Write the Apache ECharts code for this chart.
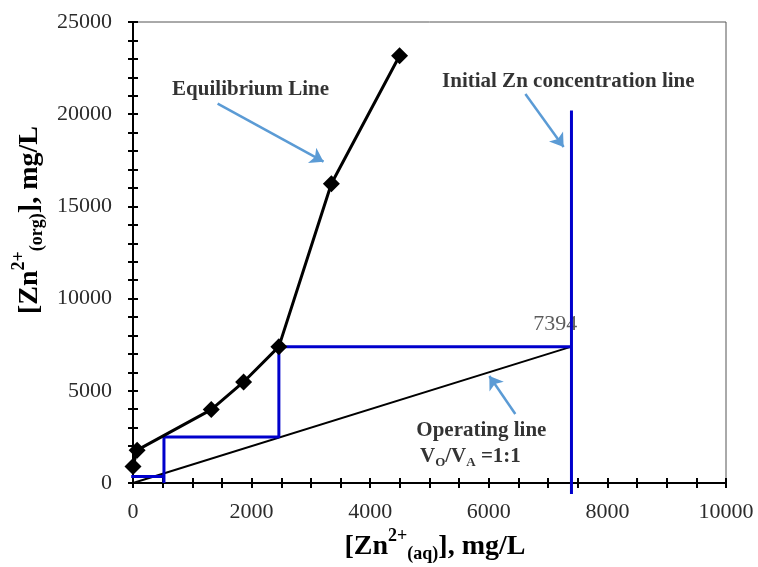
<!DOCTYPE html>
<html><head><meta charset="utf-8">
<script src="https://cdn.jsdelivr.net/npm/echarts@6/dist/echarts.min.js"></script>
<style>html,body{margin:0;padding:0;background:#fff}#c{width:758px;height:567px}</style>
</head><body><div id="c"></div>
<script>
// ---- data ----
const eqX = [0, 70, 1320, 1865, 2460, 3345, 4495];
const eqY = [900, 1780, 3980, 5480, 7394, 16230, 23170];
const opX = [0, 7394];
const opY = [0, 7394];
const stepLowX = [-30, 522];
const stepLowY = [358, 358];
const stepMidX = [522, 522, 2460, 2460];
const stepMidY = [0, 2495, 2495, 7770];
const stepTopX = [2460, 7394];
const stepTopY = [7394, 7394];
const initX = [7394, 7394];
const initY = [-600, 20200];
const xRange = [0, 10000], xStep = 2000;
const yRange = [0, 25000], yStep = 5000;
const xTitle = '{a|[Zn}{sup|2+}{sub|(aq)}{a|], mg/L}';
const yTitle = '{a|[Zn}{sup|2+}{sub|(org)}{a|], mg/L}';
// annotation texts and their anchor (data coords)
const annoText = ['Equilibrium Line', 'Initial Zn concentration line', '7394', 'Operating line', '{b|V}{s|O}{b|/V}{s|A}{b| =1:1}'];
const annoX = [1983, 7341, 7122, 5875, 5690];
const annoY = [21329, 21763, 8585, 2836, 1426];
const arrowFrom = [[1427, 20570], [6617, 21095], [6447, 3742]];
const arrowTo = [[3213, 17424], [7262, 18221], [6009, 5803]];

const zip = (a, b) => a.map((v, i) => [v, b[i]]);
const SERIF = "'Liberation Serif','Times New Roman',serif";
const blue = '#0000CC';

function axisBase(isX) {
  return {
    type: 'value',
    min: isX ? xRange[0] : yRange[0],
    max: isX ? xRange[1] : yRange[1],
    interval: isX ? xStep : yStep,
    splitLine: { show: false },
    axisLine: { show: true, onZero: false, lineStyle: { color: '#000', width: 2 } },
    axisTick: { show: true, length: 5, lineStyle: { color: '#000', width: 2 } },
    minorTick: { show: true, splitNumber: isX ? 4 : 5, length: 5, lineStyle: { color: '#000', width: 2 } },
    axisLabel: { fontFamily: SERIF, fontSize: 22, color: '#2b2b2b', margin: isX ? 18 : 21,
      formatter: v => String(v) }
  };
}
const titleRich = {
  a: { fontFamily: SERIF, fontSize: 28, fontWeight: 'bold', color: '#000', lineHeight: 40, verticalAlign: 'middle' },
  sup: { fontFamily: SERIF, fontSize: 18, fontWeight: 'bold', color: '#000', verticalAlign: 'top', lineHeight: 24 },
  sub: { fontFamily: SERIF, fontSize: 18, fontWeight: 'bold', color: '#000', verticalAlign: 'bottom', lineHeight: 20, padding: [0, 0, 4, 0] }
};

const x0 = Object.assign(axisBase(true), { position: 'bottom' });
const x1 = Object.assign(axisBase(true), { position: 'bottom' });
x1.axisLine = { show: false, onZero: false };
x1.axisTick = Object.assign({}, x1.axisTick, { inside: true });
x1.axisLabel = { show: false };

const y0 = Object.assign(axisBase(false), { position: 'left' });
const y1 = Object.assign(axisBase(false), { position: 'left' });
y1.axisLine = { show: false, onZero: false };
y1.axisTick = Object.assign({}, y1.axisTick, { inside: true });
y1.axisLabel = { show: false };

function seg(xs, ys, color, width, z) {
  return { type: 'line', data: zip(xs, ys), symbol: 'none', clip: false, silent: true,
    lineStyle: { color: color, width: width }, itemStyle: { color: color }, z: z, animation: false };
}

const annoLabelStyle = (i) => {
  if (i === 2) return { fontFamily: SERIF, fontSize: 22, color: '#333' };
  return { fontFamily: SERIF, fontSize: 21, fontWeight: 'bold', color: '#000',
    rich: { b: { fontFamily: SERIF, fontSize: 21, fontWeight: 'bold', color: '#000' },
            s: { fontFamily: SERIF, fontSize: 13, fontWeight: 'bold', color: '#000', verticalAlign: 'bottom', padding: [12, 0, 0, 0] } } };
};

const option = {
  animation: false,
  backgroundColor: '#fff',
  grid: { left: 133, right: 32, top: 22, bottom: 84, show: true, borderColor: '#555', borderWidth: 1, containLabel: false },
  xAxis: [x0, x1],
  yAxis: [y0, y1],
  graphic: [
    { type: 'text', x: 435, y: 547, silent: true,
      style: { text: xTitle, rich: titleRich, align: 'center', verticalAlign: 'middle' } },
    { type: 'text', x: 30, y: 220, rotation: Math.PI / 2, silent: true,
      style: { text: yTitle, rich: titleRich, align: 'center', verticalAlign: 'middle' } }
  ],
  series: [
    seg(opX, opY, '#000', 2, 3),
    seg(stepLowX, stepLowY, blue, 3, 4),
    seg(stepMidX, stepMidY, blue, 3, 4),
    seg(stepTopX, stepTopY, blue, 3, 4),
    seg(initX, initY, blue, 3, 4),
    { type: 'line', data: zip(eqX, eqY), symbol: 'diamond', symbolSize: 17, clip: false,
      lineStyle: { color: '#000', width: 3 }, itemStyle: { color: '#000' }, z: 5, animation: false },
    { type: 'lines', coordinateSystem: 'cartesian2d', xAxisIndex: 0, yAxisIndex: 0,
      symbol: ['none', 'arrow'], symbolSize: 13,
      lineStyle: { color: '#5B9BD5', width: 2.5, opacity: 1 },
      data: arrowFrom.map((f, i) => ({ coords: [f, arrowTo[i]] })), z: 6, animation: false },
    { type: 'scatter', symbolSize: 0, z: 2, animation: false, silent: true,
      data: annoX.map((x, i) => ({ value: [x, annoY[i]],
        label: Object.assign({ show: true, position: 'inside', formatter: annoText[i] }, annoLabelStyle(i)) })) }
  ]
};
const chart = echarts.init(document.getElementById('c'), null, { renderer: 'canvas' });
chart.setOption(option);
</script>
</body></html>
